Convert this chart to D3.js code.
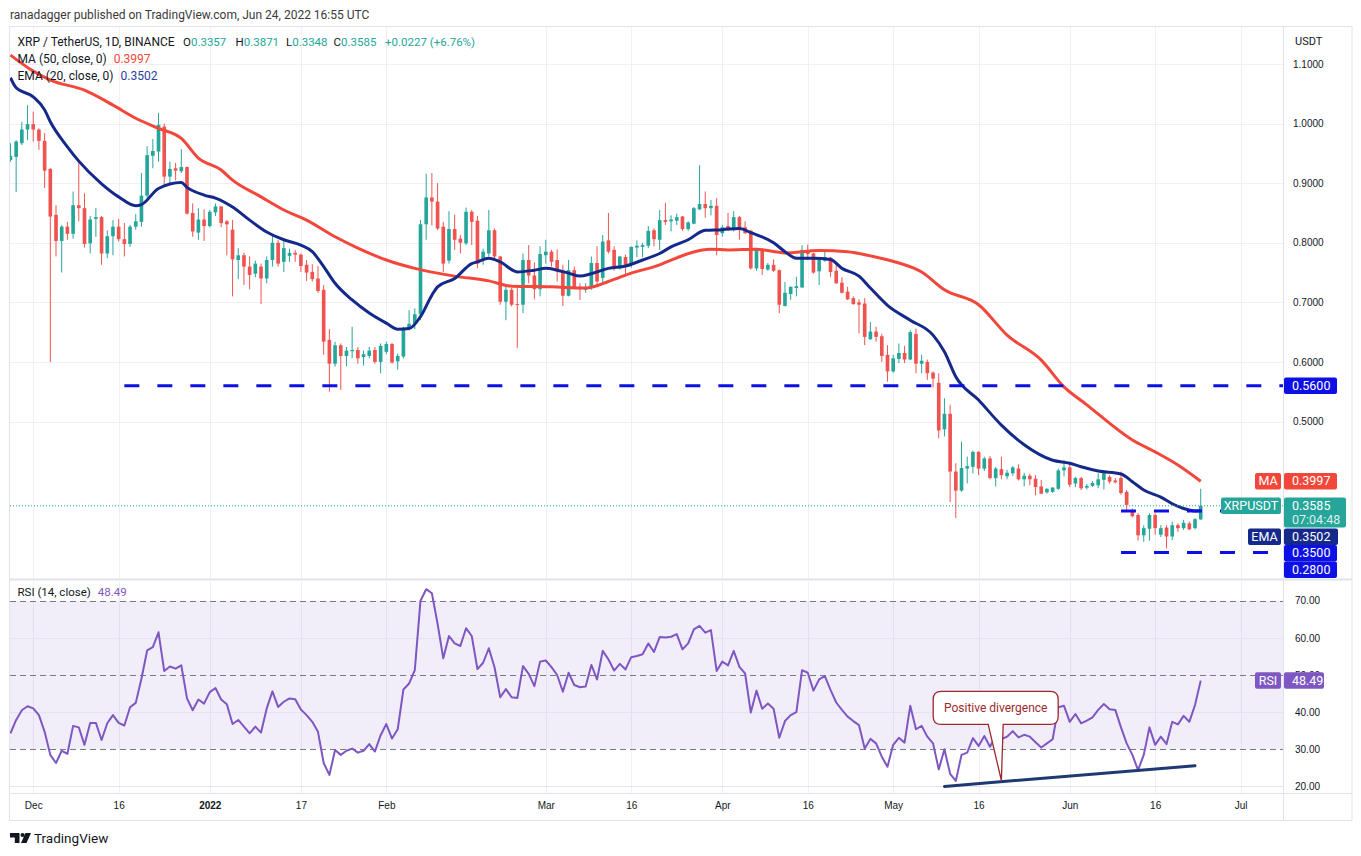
<!DOCTYPE html>
<html lang="en">
<head>
<meta charset="utf-8" />
<title>XRP / TetherUS 1D</title>
<script src="https://cdn.jsdelivr.net/npm/d3@7"></script>
<style>
  html, body { margin: 0; padding: 0; background: #ffffff; }
  svg { display: block; font-family: "Trebuchet MS", Roboto, "Noto Sans", sans-serif; }
</style>
</head>
<body>
<script>
// ---------- values ----------
const firstDay = "2021-11-27";

// daily candles [open, high, low, close]
const ohlc = [
  // Nov 27 - 30
  [0.939,0.967,0.936,0.946],[0.944,0.972,0.885,0.970],[0.967,1.003,0.964,0.990],[0.990,1.031,0.972,0.999],
  // Dec
  [0.999,1.020,0.970,0.990],[0.990,0.992,0.956,0.971],[0.971,0.984,0.892,0.921],[0.924,0.925,0.600,0.844],
  [0.847,0.863,0.777,0.803],[0.803,0.830,0.750,0.827],[0.827,0.835,0.805,0.815],[0.815,0.886,0.807,0.863],
  [0.863,0.939,0.836,0.858],[0.858,0.883,0.792,0.798],[0.799,0.845,0.782,0.839],[0.840,0.858,0.810,0.843],
  [0.843,0.845,0.763,0.782],[0.782,0.821,0.774,0.811],[0.811,0.838,0.779,0.827],[0.827,0.840,0.802,0.806],
  [0.806,0.833,0.777,0.798],[0.798,0.830,0.793,0.827],[0.827,0.848,0.822,0.836],[0.835,0.917,0.827,0.879],
  [0.879,0.962,0.875,0.947],[0.946,0.974,0.925,0.954],[0.953,1.018,0.936,0.998],[0.995,1.000,0.894,0.911],
  [0.911,0.936,0.900,0.924],[0.925,0.934,0.905,0.921],[0.920,0.957,0.917,0.927],[0.927,0.928,0.847,0.849],
  [0.850,0.866,0.810,0.819],[0.817,0.858,0.805,0.839],[0.839,0.856,0.803,0.828],
  // Jan
  [0.828,0.855,0.826,0.852],[0.851,0.866,0.845,0.861],[0.861,0.861,0.826,0.833],[0.836,0.838,0.779,0.831],
  [0.822,0.838,0.710,0.772],[0.771,0.791,0.739,0.779],[0.779,0.783,0.729,0.760],[0.760,0.777,0.722,0.746],
  [0.748,0.770,0.742,0.765],[0.760,0.765,0.697,0.740],[0.740,0.777,0.732,0.771],[0.771,0.813,0.760,0.800],
  [0.800,0.805,0.760,0.765],[0.768,0.805,0.751,0.791],[0.778,0.790,0.768,0.783],[0.783,0.788,0.768,0.780],
  [0.780,0.782,0.751,0.761],[0.763,0.771,0.736,0.750],[0.751,0.764,0.735,0.739],[0.740,0.761,0.716,0.719],
  [0.721,0.729,0.612,0.634],[0.637,0.655,0.550,0.597],[0.597,0.634,0.592,0.628],[0.628,0.631,0.553,0.610],
  [0.610,0.625,0.593,0.619],[0.618,0.659,0.606,0.620],[0.620,0.625,0.597,0.606],[0.608,0.619,0.594,0.613],
  [0.610,0.625,0.606,0.619],[0.620,0.625,0.597,0.600],[0.600,0.631,0.581,0.627],
  // Feb
  [0.617,0.634,0.613,0.630],[0.630,0.632,0.597,0.599],[0.601,0.614,0.587,0.610],[0.609,0.659,0.606,0.656],
  [0.656,0.687,0.653,0.664],[0.664,0.690,0.655,0.680],[0.680,0.838,0.670,0.831],[0.831,0.916,0.805,0.876],
  [0.876,0.917,0.829,0.869],[0.869,0.900,0.821,0.824],[0.827,0.835,0.751,0.765],[0.770,0.853,0.765,0.823],
  [0.823,0.847,0.788,0.805],[0.807,0.813,0.782,0.800],[0.799,0.859,0.796,0.852],[0.852,0.855,0.796,0.835],
  [0.837,0.845,0.757,0.765],[0.771,0.790,0.763,0.785],[0.782,0.855,0.777,0.821],[0.821,0.824,0.771,0.777],
  [0.777,0.778,0.696,0.701],[0.701,0.727,0.670,0.721],[0.721,0.724,0.693,0.696],[0.697,0.724,0.623,0.696],
  [0.696,0.782,0.682,0.771],[0.771,0.796,0.732,0.745],[0.745,0.767,0.705,0.722],[0.722,0.794,0.710,0.781],
  // Mar
  [0.779,0.805,0.765,0.785],[0.785,0.788,0.760,0.768],[0.771,0.789,0.735,0.752],[0.753,0.763,0.694,0.711],
  [0.711,0.771,0.710,0.754],[0.754,0.760,0.722,0.726],[0.726,0.732,0.704,0.722],[0.721,0.732,0.716,0.725],
  [0.724,0.777,0.721,0.766],[0.766,0.794,0.726,0.735],[0.741,0.813,0.732,0.802],[0.804,0.850,0.782,0.785],
  [0.788,0.794,0.753,0.757],[0.757,0.778,0.755,0.777],[0.776,0.780,0.743,0.763],[0.763,0.794,0.758,0.793],
  [0.792,0.804,0.776,0.795],[0.793,0.800,0.776,0.796],[0.795,0.828,0.791,0.820],[0.821,0.824,0.794,0.806],
  [0.805,0.855,0.788,0.838],[0.838,0.867,0.830,0.835],[0.836,0.846,0.819,0.839],[0.837,0.849,0.830,0.843],
  [0.844,0.845,0.820,0.823],[0.823,0.836,0.820,0.834],[0.832,0.860,0.831,0.858],[0.856,0.930,0.855,0.865],
  [0.865,0.886,0.842,0.858],[0.858,0.872,0.846,0.862],[0.862,0.875,0.779,0.813],
  // Apr
  [0.816,0.830,0.810,0.826],[0.828,0.850,0.820,0.823],[0.822,0.853,0.819,0.843],[0.843,0.845,0.805,0.823],
  [0.826,0.836,0.815,0.816],[0.820,0.822,0.755,0.757],[0.757,0.791,0.753,0.788],[0.789,0.791,0.746,0.756],
  [0.755,0.766,0.753,0.763],[0.763,0.772,0.751,0.753],[0.754,0.755,0.682,0.696],[0.694,0.734,0.693,0.716],
  [0.714,0.727,0.704,0.726],[0.724,0.743,0.710,0.727],[0.725,0.796,0.724,0.788],[0.787,0.797,0.771,0.781],
  [0.782,0.783,0.748,0.750],[0.752,0.772,0.729,0.771],[0.770,0.785,0.768,0.776],[0.775,0.776,0.743,0.751],
  [0.753,0.768,0.731,0.732],[0.733,0.742,0.715,0.716],[0.718,0.726,0.704,0.705],[0.707,0.710,0.696,0.697],
  [0.700,0.705,0.648,0.696],[0.698,0.707,0.628,0.642],[0.638,0.667,0.637,0.651],[0.651,0.659,0.634,0.642],
  [0.643,0.647,0.600,0.610],[0.612,0.628,0.567,0.584],
  // May
  [0.584,0.612,0.582,0.606],[0.605,0.631,0.598,0.615],[0.615,0.627,0.598,0.604],[0.604,0.653,0.603,0.650],
  [0.647,0.656,0.581,0.597],[0.597,0.612,0.581,0.602],[0.600,0.604,0.570,0.581],[0.582,0.584,0.557,0.572],
  [0.565,0.581,0.472,0.485],[0.487,0.539,0.475,0.513],[0.513,0.528,0.365,0.416],[0.416,0.430,0.338,0.384],
  [0.384,0.466,0.382,0.422],[0.421,0.441,0.396,0.425],[0.424,0.451,0.413,0.449],[0.449,0.450,0.410,0.421],
  [0.421,0.441,0.417,0.438],[0.438,0.442,0.403,0.405],[0.405,0.424,0.391,0.421],[0.420,0.441,0.403,0.410],
  [0.408,0.419,0.403,0.414],[0.413,0.425,0.409,0.423],[0.421,0.428,0.401,0.403],[0.403,0.414,0.391,0.409],
  [0.409,0.412,0.393,0.403],[0.404,0.410,0.376,0.390],[0.391,0.402,0.378,0.379],[0.381,0.388,0.379,0.387],
  [0.382,0.390,0.380,0.389],[0.387,0.421,0.385,0.418],[0.418,0.435,0.408,0.423],
  // Jun 1 - 24
  [0.423,0.430,0.390,0.394],[0.396,0.407,0.390,0.405],[0.405,0.407,0.385,0.388],[0.389,0.395,0.386,0.392],
  [0.392,0.400,0.390,0.397],[0.393,0.413,0.388,0.403],[0.402,0.416,0.386,0.413],[0.407,0.410,0.396,0.399],
  [0.401,0.405,0.396,0.398],[0.405,0.416,0.377,0.380],[0.382,0.385,0.349,0.360],[0.351,0.354,0.339,0.341],
  [0.343,0.346,0.300,0.309],[0.309,0.326,0.298,0.321],[0.320,0.346,0.300,0.343],[0.343,0.346,0.310,0.321],
  [0.310,0.326,0.306,0.321],[0.322,0.326,0.287,0.307],[0.307,0.332,0.301,0.326],[0.326,0.329,0.315,0.321],
  [0.321,0.335,0.318,0.330],[0.329,0.332,0.318,0.319],[0.321,0.338,0.319,0.336],[0.3357,0.3871,0.3348,0.3585]
];

// RSI (14, close), one value per candle
const rsi = [
  34.3,37.9,40.5,41.6,
  41.0,39.2,34.7,28.5,26.3,29.6,28.8,36.3,35.9,31.2,37.1,37.1,32.5,37.0,39.2,37.1,
  36.4,41.3,42.5,49.0,56.6,57.5,61.5,51.1,52.3,51.7,52.6,43.7,40.5,43.4,42.3,
  45.4,46.5,43.4,42.1,36.8,37.9,36.1,34.3,36.1,34.5,41.0,45.6,41.4,42.8,43.7,43.5,
  40.7,39.2,37.4,34.7,26.3,23.1,29.8,28.5,29.6,30.2,29.1,29.6,31.4,29.4,33.8,
  36.8,32.9,35.4,46.1,47.7,51.3,70.0,73.1,72.0,63.8,54.5,60.5,58.5,57.8,62.6,60.5,
  51.6,53.3,57.2,52.1,44.0,46.2,44.0,43.8,52.4,50.3,47.0,53.6,
  53.9,52.1,50.0,45.5,50.6,47.3,46.7,46.9,52.7,48.8,56.5,54.2,51.2,53.0,51.5,54.8,
  55.1,55.6,58.5,56.2,60.2,60.1,60.3,61.0,56.9,58.5,62.3,63.2,61.4,62.1,51.1,
  53.6,52.6,56.5,52.2,50.4,39.9,45.8,40.9,42.3,40.9,33.1,37.6,39.2,40.0,51.3,
  50.6,45.8,48.8,49.7,46.0,42.6,40.6,38.8,37.6,36.5,30.2,32.8,31.6,28.0,25.3,
  31.2,33.1,31.8,41.7,35.4,36.3,33.4,31.6,24.6,30.0,23.4,21.5,28.5,29.1,33.0,30.9,
  33.6,30.7,33.6,32.7,33.4,34.9,33.2,33.9,33.4,31.9,30.5,31.6,32.7,41.3,41.7,
  37.4,39.5,37.0,37.7,38.6,40.6,42.2,40.8,40.6,35.9,31.6,28.5,24.4,28.5,35.9,31.2,
  33.4,31.4,37.4,36.7,39.0,37.4,41.9,48.49
];

// MA (50, close) read at points along the red line
const ma50 = [
  ["2021-11-27",1.115],["2021-12-01",1.088],["2021-12-04",1.073],["2021-12-10",1.056],["2021-12-15",1.031],
  ["2021-12-19",1.009],["2021-12-23",0.992],["2021-12-27",0.975],["2021-12-30",0.942],["2022-01-03",0.922],
  ["2022-01-05",0.905],["2022-01-10",0.877],["2022-01-14",0.855],["2022-01-18",0.838],["2022-01-23",0.810],
  ["2022-01-27",0.791],["2022-02-01",0.771],["2022-02-06",0.757],["2022-02-10",0.749],["2022-02-13",0.744],
  ["2022-02-19",0.736],["2022-02-23",0.727],["2022-03-02",0.726],["2022-03-08",0.724],["2022-03-12",0.735],
  ["2022-03-16",0.749],["2022-03-21",0.763],["2022-03-23",0.771],["2022-03-30",0.789],["2022-04-02",0.788],
  ["2022-04-07",0.789],["2022-04-12",0.783],["2022-04-18",0.787],["2022-04-23",0.785],["2022-04-27",0.778],
  ["2022-05-02",0.766],["2022-05-06",0.751],["2022-05-10",0.721],["2022-05-16",0.696],["2022-05-21",0.645],
  ["2022-05-27",0.603],["2022-05-31",0.558],["2022-06-04",0.528],["2022-06-12",0.469],["2022-06-16",0.449],
  ["2022-06-20",0.427],["2022-06-24",0.3997]
];

// EMA (20, close) read at points along the navy line
const ema20 = [
  ["2021-11-27",1.077],["2021-11-28",1.060],["2021-12-01",1.045],["2021-12-03",1.023],["2021-12-04",1.003],
  ["2021-12-07",0.961],["2021-12-09",0.937],["2021-12-13",0.899],["2021-12-16",0.877],["2021-12-19",0.862],
  ["2021-12-20",0.864],["2021-12-23",0.891],["2021-12-27",0.901],["2021-12-28",0.893],["2021-12-31",0.880],
  ["2022-01-02",0.875],["2022-01-05",0.860],["2022-01-08",0.838],["2022-01-11",0.818],["2022-01-14",0.805],
  ["2022-01-17",0.796],["2022-01-19",0.785],["2022-01-21",0.760],["2022-01-23",0.732],["2022-01-26",0.704],
  ["2022-01-29",0.682],["2022-02-01",0.665],["2022-02-03",0.655],["2022-02-05",0.656],["2022-02-07",0.676],
  ["2022-02-09",0.712],["2022-02-10",0.726],["2022-02-13",0.740],["2022-02-16",0.765],["2022-02-17",0.768],
  ["2022-02-19",0.774],["2022-02-21",0.768],["2022-02-24",0.751],["2022-02-27",0.754],["2022-03-01",0.757],
  ["2022-03-03",0.754],["2022-03-05",0.749],["2022-03-07",0.744],["2022-03-09",0.748],["2022-03-12",0.757],
  ["2022-03-15",0.761],["2022-03-18",0.771],["2022-03-21",0.782],["2022-03-23",0.793],["2022-03-26",0.805],
  ["2022-03-29",0.821],["2022-04-01",0.822],["2022-04-04",0.824],["2022-04-06",0.817],["2022-04-10",0.800],
  ["2022-04-12",0.785],["2022-04-14",0.774],["2022-04-17",0.774],["2022-04-20",0.772],["2022-04-22",0.757],
  ["2022-04-25",0.744],["2022-04-27",0.724],["2022-04-30",0.695],["2022-05-04",0.670],["2022-05-08",0.645],
  ["2022-05-10",0.617],["2022-05-12",0.575],["2022-05-16",0.536],["2022-05-20",0.494],["2022-05-24",0.461],
  ["2022-05-29",0.435],["2022-06-01",0.430],["2022-06-03",0.424],["2022-06-06",0.417],["2022-06-10",0.412],
  ["2022-06-12",0.399],["2022-06-14",0.385],["2022-06-17",0.373],["2022-06-19",0.362],["2022-06-21",0.354],
  ["2022-06-23",0.350],["2022-06-24",0.3502]
];

const priceTicks = [0.5, 0.6, 0.7, 0.8, 0.9, 1.0, 1.1];
const rsiTicks = [20, 30, 40, 50, 60, 70];
const rsiDashed = [30, 50, 70];
const timeTicks = ["2021-12-01","2021-12-16","2022-01-01","2022-01-17","2022-02-01","2022-03-01","2022-03-16",
                   "2022-04-01","2022-04-16","2022-05-01","2022-05-16","2022-06-01","2022-06-16","2022-07-01"];
const timeLabels = ["Dec","16","2022","17","Feb","Mar","16","Apr","16","May","16","Jun","16","Jul"];

// horizontal levels drawn on the chart
const levels = [
  { price: 0.56, from: "2021-12-17", to: null },
  { price: 0.35, from: "2022-06-10", to: "2022-06-28" },
  { price: 0.28, from: "2022-06-10", to: "2022-07-06" }
];
const divergenceLine = [["2022-05-10", 20.0], ["2022-06-23", 25.6]];
const note = { text: "Positive divergence", at: ["2022-05-19", 41.15], tip: ["2022-05-20", 21.6] };
const countdown = "07:04:48";
const changeText = "+0.0227 (+6.76%)";

// ---------- layout ----------
const W = 1361, H = 856;
const plotL = 10, plotR = 1283, frameR = 1352;
const priceTop = 27, priceBot = 578;
const rsiTop = 581, rsiBot = 793;

const upC = "#26a69a", downC = "#ef5350";
const maC = "#f2473a", emaC = "#15298a", lvlC = "#0c10e6", rsiC = "#7e57c2";
const gridC = "#eef0f5", frameC = "#e0e3eb", textC = "#131722";

const parse = d3.utcParse("%Y-%m-%d");
const start = parse(firstDay);
const bars = ohlc.map((r, i) => ({ date: d3.utcDay.offset(start, i), o: r[0], h: r[1], l: r[2], c: r[3], rsi: rsi[i] }));
const last = bars[bars.length - 1];

const jan1 = Date.UTC(2022, 0, 1), dayMs = 864e5;
const x = d3.scaleUtc()
  .domain([new Date(jan1 - 35.08 * dayMs), new Date(jan1 + 188.45 * dayMs)])
  .range([plotL, plotR]);
const y = d3.scaleLinear().domain([0.5, 1.1]).range([421.5, 64]);
const yR = d3.scaleLinear().domain([30, 70]).range([749.3, 600.7]);

const svg = d3.select("body").append("svg").attr("width", W).attr("height", H);

const defs = svg.append("defs");
defs.append("clipPath").attr("id", "clipPrice").append("rect")
  .attr("x", plotL).attr("y", priceTop).attr("width", plotR - plotL).attr("height", priceBot - priceTop);
defs.append("clipPath").attr("id", "clipRsi").append("rect")
  .attr("x", plotL).attr("y", rsiTop).attr("width", plotR - plotL).attr("height", rsiBot - rsiTop);

// header
svg.append("text").attr("x", 10).attr("y", 19).attr("font-size", 12).attr("fill", "#3a3a3a")
  .text("ranadagger published on TradingView.com, Jun 24, 2022 16:55 UTC");

// frame
svg.append("rect").attr("x", 9.5).attr("y", priceTop - 0.5).attr("width", frameR - 9.5).attr("height", 821 - priceTop)
  .attr("fill", "none").attr("stroke", frameC);
svg.append("line").attr("x1", plotR + 0.5).attr("x2", plotR + 0.5).attr("y1", priceTop).attr("y2", 821).attr("stroke", frameC);
svg.append("line").attr("x1", 10).attr("x2", frameR).attr("y1", 579.5).attr("y2", 579.5).attr("stroke", frameC).attr("stroke-width", 2);
svg.append("line").attr("x1", 10).attr("x2", frameR).attr("y1", rsiBot + 0.5).attr("y2", rsiBot + 0.5).attr("stroke", frameC);

// grids
const timeDates = timeTicks.map(parse);
const grid = svg.append("g");
grid.selectAll(".vp").data(timeDates).join("line")
  .attr("x1", d => Math.round(x(d)) + 0.5).attr("x2", d => Math.round(x(d)) + 0.5)
  .attr("y1", priceTop).attr("y2", priceBot).attr("stroke", gridC);
grid.selectAll(".vr").data(timeDates).join("line")
  .attr("x1", d => Math.round(x(d)) + 0.5).attr("x2", d => Math.round(x(d)) + 0.5)
  .attr("y1", rsiTop).attr("y2", rsiBot).attr("stroke", gridC);
grid.selectAll(".hp").data(priceTicks).join("line")
  .attr("x1", plotL).attr("x2", plotR).attr("y1", d => Math.round(y(d)) + 0.5).attr("y2", d => Math.round(y(d)) + 0.5)
  .attr("stroke", gridC);

// RSI pane background band and lines
const rsiG = svg.append("g").attr("clip-path", "url(#clipRsi)");
rsiG.append("rect").attr("x", plotL).attr("width", plotR - plotL)
  .attr("y", yR(70)).attr("height", yR(30) - yR(70)).attr("fill", rsiC).attr("fill-opacity", 0.1);
rsiG.selectAll(".rg").data(rsiTicks.filter(v => !rsiDashed.includes(v))).join("line")
  .attr("x1", plotL).attr("x2", plotR).attr("y1", d => Math.round(yR(d)) + 0.5).attr("y2", d => Math.round(yR(d)) + 0.5)
  .attr("stroke", "#e6e2f0");
rsiG.selectAll(".rd").data(rsiDashed).join("line")
  .attr("x1", plotL).attr("x2", plotR).attr("y1", d => Math.round(yR(d)) + 0.5).attr("y2", d => Math.round(yR(d)) + 0.5)
  .attr("stroke", "#787b86").attr("stroke-dasharray", "6,4");
rsiG.append("path").datum(bars)
  .attr("d", d3.line().x(d => x(d.date)).y(d => yR(d.rsi)))
  .attr("fill", "none").attr("stroke", rsiC).attr("stroke-width", 2).attr("stroke-linejoin", "round");

// divergence trend line
rsiG.append("line")
  .attr("x1", x(parse(divergenceLine[0][0]))).attr("y1", yR(divergenceLine[0][1]))
  .attr("x2", x(parse(divergenceLine[1][0]))).attr("y2", yR(divergenceLine[1][1]))
  .attr("stroke", "#1d3a72").attr("stroke-width", 3).attr("stroke-linecap", "round");

// callout
{
  const cx = x(parse(note.at[0])), cy = yR(note.at[1]);
  const tx = x(parse(note.tip[0])), ty = yR(note.tip[1]);
  const w = 125, h = 33, r = 8;
  const x0 = cx - w / 2, x1 = cx + w / 2, y0 = cy - h / 2, y1 = cy + h / 2;
  const bl = cx - 7.5, br = cx + 7.5;
  const p = `M${x0 + r},${y0} H${x1 - r} Q${x1},${y0} ${x1},${y0 + r} V${y1 - r} Q${x1},${y1} ${x1 - r},${y1}
    H${br} L${tx},${ty} L${bl},${y1} H${x0 + r} Q${x0},${y1} ${x0},${y1 - r} V${y0 + r} Q${x0},${y0} ${x0 + r},${y0} Z`;
  rsiG.append("path").attr("d", p).attr("fill", "#ffffff").attr("stroke", "#9c2a2d").attr("stroke-width", 1.3);
  rsiG.append("text").attr("x", cx).attr("y", cy + 4).attr("text-anchor", "middle")
    .attr("font-size", 12).attr("fill", "#9c2a2d").text(note.text);
}

// price pane
const pG = svg.append("g").attr("clip-path", "url(#clipPrice)");
const step = x(d3.utcDay.offset(start, 1)) - x(start);
const bodyW = step * 0.64;
const cg = pG.append("g").selectAll("g").data(bars).join("g");
cg.append("line")
  .attr("x1", d => x(d.date)).attr("x2", d => x(d.date))
  .attr("y1", d => y(d.h)).attr("y2", d => y(d.l))
  .attr("stroke", d => d.c >= d.o ? upC : downC).attr("stroke-width", 1);
cg.append("rect")
  .attr("x", d => x(d.date) - bodyW / 2).attr("width", bodyW)
  .attr("y", d => y(Math.max(d.o, d.c)))
  .attr("height", d => Math.max(1, Math.abs(y(d.o) - y(d.c))))
  .attr("fill", d => d.c >= d.o ? upC : downC);

const lineGen = yScale => d3.line().x(d => x(parse(d[0]))).y(d => yScale(d[1])).curve(d3.curveMonotoneX);
pG.append("path").attr("d", lineGen(y)(ma50)).attr("fill", "none").attr("stroke", maC).attr("stroke-width", 3);
pG.append("path").attr("d", lineGen(y)(ema20)).attr("fill", "none").attr("stroke", emaC).attr("stroke-width", 3);

// current price dotted line
pG.append("line").attr("x1", plotL).attr("x2", plotR).attr("y1", y(last.c)).attr("y2", y(last.c))
  .attr("stroke", upC).attr("stroke-dasharray", "1,2");

// dashed levels
pG.selectAll(".lvl").data(levels).join("line")
  .attr("x1", d => x(parse(d.from)))
  .attr("x2", d => d.to ? x(parse(d.to)) : plotR)
  .attr("y1", d => y(d.price)).attr("y2", d => y(d.price))
  .attr("stroke", lvlC).attr("stroke-width", 3).attr("stroke-dasharray", "15,18");

// legend
const fmt4 = d3.format(".4f");
svg.append("text").attr("x", 17.5).attr("y", 46).attr("font-size", 12).attr("fill", textC)
  .text("XRP / TetherUS, 1D, BINANCE");
const ohlcLeg = [["O", last.o, 183], ["H", last.h, 235.5], ["L", last.l, 286], ["C", last.c, 333.5]];
ohlcLeg.forEach(([k, v, px]) => {
  const t = svg.append("text").attr("x", px).attr("y", 46).attr("font-size", 11.5).attr("fill", textC);
  t.append("tspan").text(k);
  t.append("tspan").attr("fill", upC).text(fmt4(v));
});
svg.append("text").attr("x", 385).attr("y", 46).attr("font-size", 11.5).attr("fill", upC).text(changeText);

const leg2 = svg.append("text").attr("x", 17.5).attr("y", 63).attr("font-size", 12).attr("fill", textC);
leg2.append("tspan").text("MA (50, close, 0)");
leg2.append("tspan").attr("dx", 7).attr("fill", maC).text(fmt4(ma50[ma50.length - 1][1]));
const leg3 = svg.append("text").attr("x", 17.5).attr("y", 80).attr("font-size", 12).attr("fill", textC);
leg3.append("tspan").text("EMA (20, close, 0)");
leg3.append("tspan").attr("dx", 7).attr("fill", "#2a3fa5").text(fmt4(ema20[ema20.length - 1][1]));
const leg4 = svg.append("text").attr("x", 17.5).attr("y", 596).attr("font-size", 11.5).attr("fill", textC);
leg4.append("tspan").text("RSI (14, close)");
leg4.append("tspan").attr("dx", 7).attr("fill", rsiC).text(d3.format(".2f")(last.rsi));

// axes
const axisStyle = g => {
  g.select(".domain").remove();
  g.selectAll("line").remove();
  g.selectAll("text").attr("fill", textC).attr("font-family", null);
};
svg.append("g").attr("transform", `translate(${plotR + 10},0)`).attr("font-size", 11)
  .call(d3.axisRight(y).tickValues(priceTicks).tickSize(0).tickPadding(0).tickFormat(fmt4))
  .call(axisStyle);
svg.append("g").attr("transform", `translate(${plotR + 12},0)`).attr("font-size", 11)
  .call(d3.axisRight(yR).tickValues(rsiTicks).tickSize(0).tickPadding(0).tickFormat(d3.format(".2f")))
  .call(axisStyle);
const tAxis = svg.append("g").attr("transform", `translate(0,${rsiBot + 3})`).attr("font-size", 12)
  .call(d3.axisBottom(x).tickValues(timeDates).tickSize(0).tickPadding(6).tickFormat((d, i) => timeLabels[i]))
  .call(axisStyle);
tAxis.selectAll("text").filter(d => d.getUTCMonth() === 0 && d.getUTCDate() === 1).attr("font-weight", 700);
svg.append("text").attr("x", plotR + 12).attr("y", 45).attr("font-size", 11).attr("fill", textC).text("USDT");

// price-scale labels (stacked so they don't overlap)
const lab = [
  { v: ma50[ma50.length - 1][1], name: "MA", color: maC, lines: [fmt4(ma50[ma50.length - 1][1])], nameW: 26, valW: 53 },
  { v: last.c, name: "XRPUSDT", color: upC, lines: [fmt4(last.c), countdown], nameW: 60, valW: 62 },
  { v: ema20[ema20.length - 1][1], name: "EMA", color: emaC, lines: [fmt4(ema20[ema20.length - 1][1])], nameW: 33, valW: 54 },
  ...levels.filter(l => l.to !== null).map(l => ({ v: l.price, name: null, color: lvlC, lines: [fmt4(l.price)], valW: 53 }))
].sort((a, b) => y(a.v) - y(b.v));
const lineH = 16.5;
let prevBottom = -Infinity;
lab.forEach(d => {
  const hgt = lineH * d.lines.length - (d.lines.length > 1 ? 3 : 0);
  let top = y(d.v) - lineH / 2;
  if (top < prevBottom + 1 && d.name) top = prevBottom + 1;
  else if (top < prevBottom) top = prevBottom;
  d.top = top; d.h = hgt;
  prevBottom = top + hgt;
});
const drawLabel = (top, h, color, name, nameW, lines, valW) => {
  const g = svg.append("g");
  if (name) {
    g.append("rect").attr("x", plotR - 2 - nameW).attr("y", top).attr("width", nameW).attr("height", lineH)
      .attr("rx", 2).attr("fill", color);
    g.append("text").attr("x", plotR - 2 - nameW / 2).attr("y", top + 12.3).attr("text-anchor", "middle")
      .attr("font-size", 12.5).attr("fill", "#ffffff").text(name);
  }
  g.append("rect").attr("x", plotR + 1).attr("y", top).attr("width", valW).attr("height", h)
    .attr("rx", 2).attr("fill", color);
  lines.forEach((t, i) => {
    g.append("text").attr("x", plotR + 9).attr("y", top + 12.3 + i * 14.5)
      .attr("font-size", 12.5).attr("fill", "#ffffff").attr("fill-opacity", i ? 0.85 : 1).text(t);
  });
};
lab.forEach(d => drawLabel(d.top, d.h, d.color, d.name, d.nameW, d.lines, d.valW));
// ray level label
levels.filter(l => l.to === null).forEach(l =>
  drawLabel(y(l.price) - lineH / 2, lineH, lvlC, null, 0, [fmt4(l.price)], 53));
// RSI label
drawLabel(yR(last.rsi) - lineH / 2, lineH, rsiC, "RSI", 26, [d3.format(".2f")(last.rsi)], 40);

// footer logo
const logo = svg.append("g").attr("fill", textC);
logo.append("path").attr("d", "M10,833 H19.5 V843 H14.8 V837.5 H10 Z");
logo.append("circle").attr("cx", 22.6).attr("cy", 835).attr("r", 2.1);
logo.append("path").attr("d", "M25.5,833 H31 L26.5,843 H21 Z");
svg.append("text").attr("x", 34).attr("y", 843).attr("font-size", 13.5).attr("fill", textC).text("TradingView");
</script>
</body>
</html>
